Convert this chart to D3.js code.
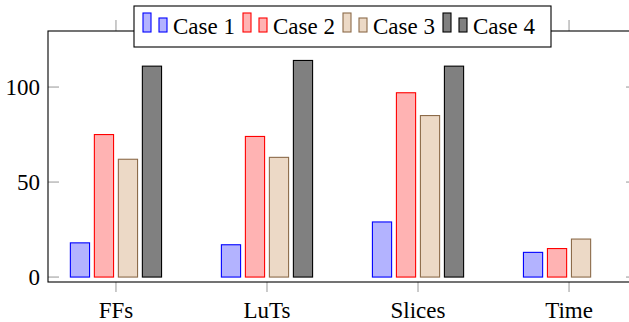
<!DOCTYPE html>
<html>
<head>
<meta charset="utf-8">
<script src="https://cdn.jsdelivr.net/npm/d3@7"></script>
</head>
<body style="margin:0">
<svg id="chart" width="629" height="322"></svg>
<script>
const categories = ["FFs", "LuTs", "Slices", "Time"];
const seriesNames = ["Case 1", "Case 2", "Case 3", "Case 4"];
const case1 = [18, 17, 29, 13];
const case2 = [75, 74, 97, 15];
const case3 = [62, 63, 85, 20];
const case4 = [111, 114, 111, null];
const yTicks = [0, 50, 100];

const seriesValues = [case1, case2, case3, case4];
const fills = ["#b3b3ff", "#ffb3b3", "#ecd9c6", "#808080"];
const strokes = ["#0000ff", "#ff0000", "#8c6b4a", "#000000"];

const axL = 48, axR = 637, axT = 31, axB = 282;

const svg = d3.select("#chart");

const x = d3.scalePoint().domain(categories).range([axL, axR]).padding(0.45);
const xInner = d3.scaleBand().domain(seriesNames).range([-48, 48])
    .paddingInner(0.2).paddingOuter(0.1);
const y = d3.scaleLinear().domain([-2.6, 129.5]).range([axB, axT]);

// bars
const rows = [];
seriesNames.forEach((s, i) => {
    categories.forEach((c, j) => {
        const v = seriesValues[i][j];
        if (v != null) rows.push({ s, i, c, v });
    });
});

svg.selectAll(".bar").data(rows).enter()
    .append("rect")
    .attr("class", "bar")
    .attr("x", d => x(d.c) + xInner(d.s))
    .attr("width", xInner.bandwidth())
    .attr("y", d => y(d.v))
    .attr("height", d => y(0) - y(d.v))
    .attr("fill", d => fills[d.i])
    .attr("stroke", d => strokes[d.i])
    .attr("stroke-width", 1.1);

// ticks
const tickColor = "#a8a8a8";
categories.forEach(c => {
    svg.append("line").attr("x1", x(c)).attr("x2", x(c))
        .attr("y1", axB).attr("y2", axB + 10)
        .attr("stroke", tickColor).attr("stroke-width", 1.2);
    svg.append("line").attr("x1", x(c)).attr("x2", x(c))
        .attr("y1", axT - 11).attr("y2", axT)
        .attr("stroke", tickColor).attr("stroke-width", 1.2);
});
yTicks.forEach(t => {
    svg.append("line").attr("x1", axL).attr("x2", axL + 11)
        .attr("y1", y(t)).attr("y2", y(t))
        .attr("stroke", tickColor).attr("stroke-width", 1.2);
    svg.append("line").attr("x1", axR - 11).attr("x2", axR)
        .attr("y1", y(t)).attr("y2", y(t))
        .attr("stroke", tickColor).attr("stroke-width", 1.2);
});

svg.selectAll(".xlab").data(categories).enter().append("text")
    .attr("class", "xlab")
    .attr("x", d => x(d)).attr("y", 318)
    .attr("text-anchor", "middle")
    .attr("font-size", 23)
    .style("font-family", "'Liberation Serif', monospace")
    .text(d => d);

svg.selectAll(".ylab").data(yTicks).enter().append("text")
    .attr("class", "ylab")
    .attr("x", 40).attr("y", d => y(d) + 8)
    .attr("text-anchor", "end")
    .attr("font-size", 23)
    .style("font-family", "'Liberation Serif', monospace")
    .text(d => d);

// axis box
svg.append("rect")
    .attr("x", axL).attr("y", axT)
    .attr("width", axR - axL).attr("height", axB - axT)
    .attr("fill", "none").attr("stroke", "#000").attr("stroke-width", 1.1);

// legend
const legend = svg.append("g").attr("transform", "translate(134,6)");
legend.append("rect").attr("width", 417).attr("height", 41)
    .attr("fill", "#fff").attr("stroke", "#000").attr("stroke-width", 1.1);
const items = legend.selectAll(".item").data(seriesNames).enter().append("g")
    .attr("class", "item")
    .attr("transform", (d, i) => `translate(${9 + i * 100},0)`);
items.append("rect").attr("x", 0).attr("y", 7).attr("width", 8).attr("height", 19)
    .attr("fill", (d, i) => fills[i]).attr("stroke", (d, i) => strokes[i]).attr("stroke-width", 1.1);
items.append("rect").attr("x", 16).attr("y", 12).attr("width", 8).attr("height", 14)
    .attr("fill", (d, i) => fills[i]).attr("stroke", (d, i) => strokes[i]).attr("stroke-width", 1.1);
items.append("text").attr("x", 30).attr("y", 28)
    .attr("font-size", 23)
    .style("font-family", "'Liberation Serif', monospace")
    .text(d => d);
</script>
</body>
</html>
